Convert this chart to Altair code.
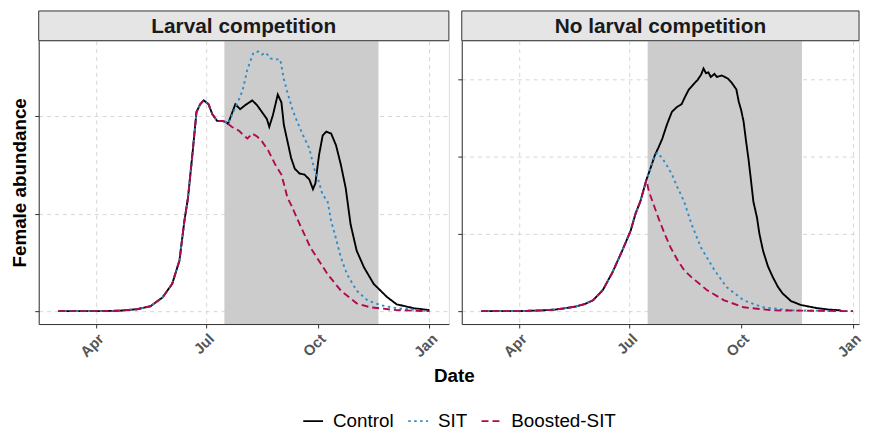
import altair as alt
import pandas as pd

FONT = "Liberation Sans"

PANELS = ["Larval competition", "No larval competition"]
TREATMENTS = ["Control", "SIT", "Boosted-SIT"]
COLORS = ["#000000", "#2E8BC9", "#AE0A4E"]
DASHES = [[1, 0], [2.5, 3.5], [7, 4]]

SHADE_START = "2019-07-16"
SHADE_END = "2019-11-20"

X_TICKS = [(2019, 4, 1), (2019, 7, 1), (2019, 10, 1), (2020, 1, 1)]

# ---------------- Larval competition ----------------
LC_COMMON_DATES = ["2019-03-01", "2019-03-20", "2019-04-05", "2019-04-21", "2019-05-05",
                   "2019-05-16", "2019-05-26", "2019-06-03", "2019-06-09", "2019-06-13",
                   "2019-06-16", "2019-06-20", "2019-06-23", "2019-06-26", "2019-06-29",
                   "2019-07-03", "2019-07-06", "2019-07-10", "2019-07-14", "2019-07-17",
                   "2019-07-19"]
LC_COMMON_VALUES = [0, 0, 0, 0.005, 0.02, 0.05, 0.14, 0.28, 0.52, 0.92,
                    1.16, 1.65, 2.04, 2.12, 2.16, 2.12, 2.02, 1.95, 1.95, 1.94,
                    1.92]

LC_CONTROL_DATES = ["2019-07-25", "2019-07-29", "2019-08-02", "2019-08-08", "2019-08-12",
                    "2019-08-16", "2019-08-20", "2019-08-22", "2019-08-25", "2019-08-29",
                    "2019-09-01", "2019-09-03", "2019-09-06", "2019-09-09", "2019-09-12",
                    "2019-09-16", "2019-09-20", "2019-09-24", "2019-09-27", "2019-09-29",
                    "2019-10-02", "2019-10-05", "2019-10-08", "2019-10-12", "2019-10-16",
                    "2019-10-20", "2019-10-24", "2019-10-28", "2019-11-02", "2019-11-08",
                    "2019-11-16", "2019-11-27", "2019-12-05", "2019-12-19", "2020-01-01"]
LC_CONTROL_VALUES = [2.12, 2.07, 2.11, 2.16, 2.11, 2.04, 1.97, 1.89, 2.01, 2.22,
                     2.14, 1.91, 1.74, 1.57, 1.46, 1.41, 1.40, 1.35, 1.25, 1.31,
                     1.60, 1.80, 1.84, 1.82, 1.70, 1.50, 1.26, 0.89, 0.62, 0.45,
                     0.28, 0.145, 0.07, 0.03, 0.01]

LC_SIT_DATES = ["2019-07-27", "2019-07-31", "2019-08-04", "2019-08-09", "2019-08-13",
                "2019-08-16", "2019-08-19", "2019-08-23", "2019-08-27", "2019-08-31",
                "2019-09-03", "2019-09-06", "2019-09-10", "2019-09-14", "2019-09-20",
                "2019-09-24", "2019-09-28", "2019-10-01", "2019-10-05", "2019-10-09",
                "2019-10-12", "2019-10-15", "2019-10-20", "2019-10-25", "2019-11-02",
                "2019-11-11", "2019-11-22", "2019-12-05", "2020-01-01"]
LC_SIT_VALUES = [2.14, 2.26, 2.48, 2.65, 2.66, 2.63, 2.65, 2.59, 2.58, 2.58,
                 2.38, 2.24, 2.07, 1.94, 1.77, 1.67, 1.46, 1.36, 1.19, 1.13,
                 0.92, 0.79, 0.55, 0.38, 0.21, 0.11, 0.06, 0.03, 0.0]

LC_BOOSTED_DATES = ["2019-07-22", "2019-07-28", "2019-08-01", "2019-08-04", "2019-08-08",
                    "2019-08-12", "2019-08-16", "2019-08-21", "2019-08-27", "2019-09-01",
                    "2019-09-04", "2019-09-06", "2019-09-09", "2019-09-15", "2019-09-25",
                    "2019-10-09", "2019-10-20", "2019-11-02", "2019-11-13", "2019-12-05",
                    "2020-01-01"]
LC_BOOSTED_VALUES = [1.89, 1.85, 1.80, 1.77, 1.82, 1.79, 1.74, 1.65, 1.50, 1.40,
                     1.26, 1.16, 1.09, 0.92, 0.65, 0.38, 0.21, 0.08, 0.04, 0.01,
                     0.0]

# ---------------- No larval competition ----------------
NLC_COMMON_DATES = ["2019-03-01", "2019-04-01", "2019-04-20", "2019-05-01", "2019-05-10",
                    "2019-05-18", "2019-05-25", "2019-06-01", "2019-06-09", "2019-06-17",
                    "2019-06-25", "2019-07-02", "2019-07-06", "2019-07-10", "2019-07-15"]
NLC_COMMON_VALUES = [0, 0, 0.01, 0.02, 0.04, 0.06, 0.09, 0.14, 0.27, 0.50,
                     0.78, 1.04, 1.26, 1.42, 1.70]

NLC_CONTROL_DATES = ["2019-07-19", "2019-07-22", "2019-07-25", "2019-07-28", "2019-08-01",
                     "2019-08-05", "2019-08-09", "2019-08-13", "2019-08-16", "2019-08-19",
                     "2019-08-23", "2019-08-26", "2019-08-29", "2019-08-31", "2019-09-02",
                     "2019-09-04", "2019-09-06", "2019-09-09", "2019-09-11", "2019-09-15",
                     "2019-09-20", "2019-09-23", "2019-09-27", "2019-09-29", "2019-10-01",
                     "2019-10-03", "2019-10-05", "2019-10-07", "2019-10-09", "2019-10-11",
                     "2019-10-14", "2019-10-16", "2019-10-19", "2019-10-23", "2019-10-27",
                     "2019-10-31", "2019-11-04", "2019-11-11", "2019-11-19", "2019-12-02",
                     "2019-12-12", "2019-12-22"]
NLC_CONTROL_VALUES = [1.88, 2.02, 2.12, 2.23, 2.42, 2.58, 2.64, 2.68, 2.78, 2.87,
                      2.94, 2.99, 3.06, 3.14, 3.08, 3.09, 3.03, 3.07, 3.03, 3.05,
                      3.01, 2.96, 2.87, 2.71, 2.60, 2.45, 2.20, 1.97, 1.70, 1.42,
                      1.21, 1.00, 0.78, 0.58, 0.44, 0.32, 0.23, 0.13, 0.08, 0.04,
                      0.02, 0.01]

NLC_SIT_DATES = ["2019-07-19", "2019-07-22", "2019-07-24", "2019-07-28", "2019-08-01",
                 "2019-08-05", "2019-08-09", "2019-08-15", "2019-08-21", "2019-08-29",
                 "2019-09-09", "2019-09-19", "2019-10-03", "2019-10-19", "2019-11-11",
                 "2020-01-01"]
NLC_SIT_VALUES = [1.88, 2.02, 2.05, 1.98, 1.88, 1.77, 1.62, 1.42, 1.13, 0.82,
                  0.53, 0.31, 0.14, 0.05, 0.01, 0.0]

NLC_BOOSTED_DATES = ["2019-07-17", "2019-07-20", "2019-07-25", "2019-07-30", "2019-08-04",
                     "2019-08-10", "2019-08-15", "2019-08-21", "2019-09-03", "2019-09-17",
                     "2019-10-03", "2019-10-27", "2020-01-01"]
NLC_BOOSTED_VALUES = [1.55, 1.42, 1.20, 1.00, 0.82, 0.65, 0.53, 0.44, 0.27, 0.14,
                      0.05, 0.01, 0.0]

SERIES = {
    ("Larval competition", "Control"): (LC_COMMON_DATES + LC_CONTROL_DATES, LC_COMMON_VALUES + LC_CONTROL_VALUES),
    ("Larval competition", "SIT"): (LC_COMMON_DATES + LC_SIT_DATES, LC_COMMON_VALUES + LC_SIT_VALUES),
    ("Larval competition", "Boosted-SIT"): (LC_COMMON_DATES + LC_BOOSTED_DATES, LC_COMMON_VALUES + LC_BOOSTED_VALUES),
    ("No larval competition", "Control"): (NLC_COMMON_DATES + NLC_CONTROL_DATES, NLC_COMMON_VALUES + NLC_CONTROL_VALUES),
    ("No larval competition", "SIT"): (NLC_COMMON_DATES + NLC_SIT_DATES, NLC_COMMON_VALUES + NLC_SIT_VALUES),
    ("No larval competition", "Boosted-SIT"): (NLC_COMMON_DATES + NLC_BOOSTED_DATES, NLC_COMMON_VALUES + NLC_BOOSTED_VALUES),
}

rows = []
for (panel_name, treat), (ds, vs) in SERIES.items():
    for d, v in zip(ds, vs):
        rows.append({"panel": panel_name, "treatment": treat, "date": d, "value": v})
df = pd.DataFrame(rows)

HEIGHT = 286
STRIP = 30


def dt(y, m, d):
    return alt.DateTime(year=y, month=m, date=d, utc=True)


def make_panel(name, width, ydomain, yticks, xend, first):
    data = df[df.panel == name]
    xscale = alt.Scale(type="utc", domain=[dt(2019, 2, 13), dt(*xend)])
    xaxis = alt.Axis(values=[dt(*t) for t in X_TICKS], format="%b", title=None,
                     labelAngle=315, labelAlign="right", labelBaseline="top",
                     labelFontSize=15, labelFontWeight="bold", labelColor="#555555",
                     labelFont=FONT, labelPadding=3, tickSize=4, tickColor="#333333",
                     domainColor="#333333", grid=True, gridColor="#d6d6d6",
                     gridDash=[4, 4], labelFlush=False, labelOverlap=False)
    yaxis = alt.Axis(values=yticks, labels=False, tickSize=4, tickColor="#333333",
                     domainColor="#333333", grid=True, gridColor="#d6d6d6",
                     gridDash=[4, 4],
                     title="Female abundance" if first else None,
                     titleFontSize=19, titleFontWeight="bold", titleFont=FONT,
                     titleColor="#000000", titlePadding=5)
    yscale = alt.Scale(domain=ydomain, nice=False, zero=False)

    shade = alt.Chart(pd.DataFrame({"start": [SHADE_START], "end": [SHADE_END]})).mark_rect(
        color="#cccccc").encode(
        x=alt.X("start:T", scale=xscale, axis=xaxis),
        x2="end:T",
        y=alt.value(0), y2=alt.value(HEIGHT))

    if first:
        leg = alt.Legend(orient="none", legendX=266, legendY=373, direction="horizontal",
                         title=None, symbolType="stroke", symbolSize=400,
                         symbolStrokeWidth=2, labelFontSize=19, labelFont=FONT,
                         labelColor="#000000", labelOffset=9, columnPadding=10)
    else:
        leg = None

    lines = alt.Chart(data).mark_line(strokeWidth=1.9).encode(
        x=alt.X("date:T", scale=xscale, axis=xaxis),
        y=alt.Y("value:Q", scale=yscale, axis=yaxis),
        color=alt.Color("treatment:N", scale=alt.Scale(domain=TREATMENTS, range=COLORS), legend=leg),
        strokeDash=alt.StrokeDash("treatment:N", scale=alt.Scale(domain=TREATMENTS, range=DASHES), legend=leg),
    )

    lab = pd.DataFrame({"label": [name]})
    strip_rect = alt.Chart(lab).mark_rect(fill="#e5e5e5", stroke="#333333", strokeWidth=1).encode(
        x=alt.value(0), x2=alt.value(width), y=alt.value(-STRIP), y2=alt.value(0))
    strip_text = alt.Chart(lab).mark_text(fontSize=21, fontWeight="bold", font=FONT,
                                          color="#1a1a1a", baseline="middle").encode(
        x=alt.value(width / 2), y=alt.value(-STRIP / 2 + 1), text="label:N")

    layers = [shade, lines, strip_rect, strip_text]
    if first:
        date_title = alt.Chart(pd.DataFrame({"label": ["Date"]})).mark_text(
            fontSize=19, fontWeight="bold", font=FONT, color="#000000", baseline="middle").encode(
            x=alt.value(419.5), y=alt.value(339), text="label:N")
        layers.append(date_title)
    return alt.layer(*layers).properties(width=width, height=HEIGHT)


left = make_panel("Larval competition", 414, [-0.132, 2.772], [0, 1, 2], (2020, 1, 17), True)
right = make_panel("No larval competition", 401, [-0.167, 3.5], [0, 1, 2, 3], (2020, 1, 6), False)

chart = alt.hconcat(left, right, spacing=13, bounds="flush").resolve_scale(
    x="independent", y="independent", color="independent", strokeDash="independent"
).properties(
    padding={"left": 2, "top": 0, "right": 0, "bottom": 0}
).configure_view(stroke="#c8c8c8").configure(font=FONT)

chart.save("out.html", embed_options={"renderer": "svg", "actions": False})
